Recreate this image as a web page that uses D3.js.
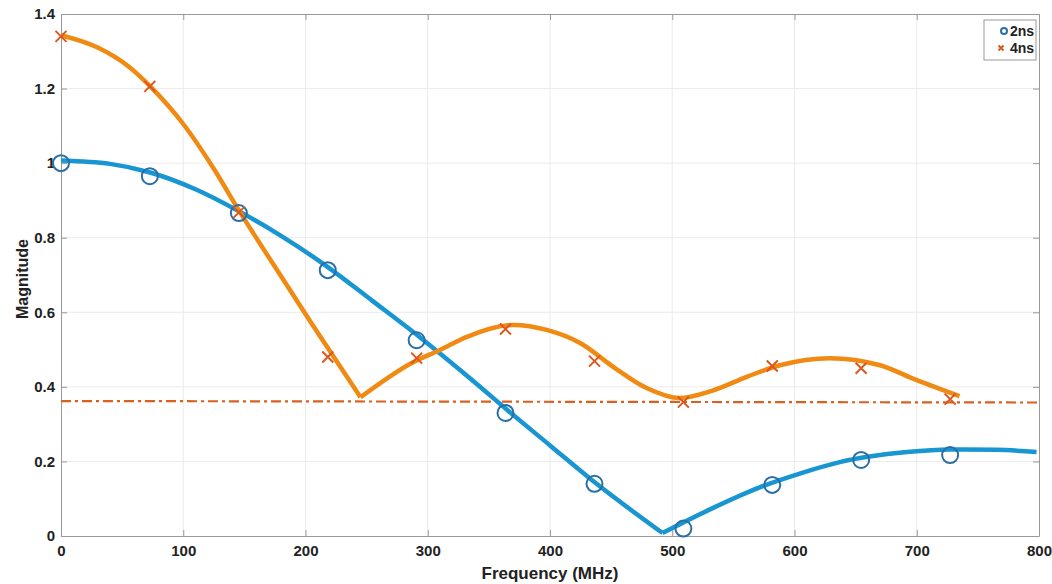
<!DOCTYPE html>
<html>
<head>
<meta charset="utf-8">
<script src="https://cdn.jsdelivr.net/npm/d3@7"></script>
<style>
  body { margin: 0; background: #fff; }
  text { font-family: "Liberation Sans", Arial, sans-serif; font-weight: bold; }
</style>
</head>
<body>
<svg id="chart" width="1052" height="584"></svg>
<script>
// marker samples (frequency in MHz)
const markerFreq = [0, 72.7, 145.5, 218.2, 290.9, 363.6, 436.4, 509.1, 581.8, 654.5, 727.3];
const marks2ns = [1.0, 0.965, 0.866, 0.713, 0.525, 0.33, 0.14, 0.02, 0.137, 0.204, 0.217];
const marks4ns = [1.34, 1.206, 0.868, 0.48, 0.477, 0.555, 0.469, 0.359, 0.456, 0.45, 0.367];

// smooth curves, split at the sharp corners
const curve2nsA = [[0, 1.007], [40, 0.998], [73, 0.975], [110, 0.93], [145, 0.872], [180, 0.805],
  [218, 0.722], [255, 0.63], [294, 0.532], [335, 0.422], [365, 0.338], [400, 0.243], [435, 0.148], [492, 0.008]];
const curve2nsB = [[492, 0.008], [530, 0.07], [572, 0.131], [605, 0.168], [637, 0.198], [692, 0.225],
  [727, 0.232], [765, 0.231], [798, 0.225]];
const curve4nsA = [[0, 1.343], [30, 1.31], [55, 1.26], [73, 1.206], [100, 1.105], [125, 0.985],
  [145, 0.876], [175, 0.722], [205, 0.57], [245, 0.372]];
const curve4nsB = [[245, 0.372], [288, 0.466], [310, 0.499], [332, 0.534], [370, 0.566], [398, 0.552],
  [425, 0.517], [452, 0.453], [479, 0.397], [506, 0.37], [533, 0.39], [561, 0.427], [588, 0.458],
  [629, 0.477], [670, 0.458], [700, 0.418], [735, 0.375]];
const refLine = [[0, 0.362], [800, 0.358]];

const xTicks = [0, 100, 200, 300, 400, 500, 600, 700, 800];
const yTicks = [0, 0.2, 0.4, 0.6, 0.8, 1, 1.2, 1.4];

const svg = d3.select('#chart');
const margin = { top: 14, right: 13, bottom: 48, left: 61 };
const innerWidth = 1052 - margin.left - margin.right;
const innerHeight = 584 - margin.top - margin.bottom;
const g = svg.append('g').attr('transform', `translate(${margin.left},${margin.top})`);

const xScale = d3.scaleLinear().domain([0, 800]).range([0, innerWidth]);
const yScale = d3.scaleLinear().domain([0, 1.4]).range([innerHeight, 0]);

// grid
g.append('g').selectAll('line').data(xTicks.slice(1, -1)).join('line')
  .attr('x1', d => xScale(d)).attr('x2', d => xScale(d))
  .attr('y1', 0).attr('y2', innerHeight)
  .attr('stroke', '#ebebeb').attr('stroke-width', 1);
g.append('g').selectAll('line').data(yTicks.slice(1, -1)).join('line')
  .attr('y1', d => yScale(d)).attr('y2', d => yScale(d))
  .attr('x1', 0).attr('x2', innerWidth)
  .attr('stroke', '#ebebeb').attr('stroke-width', 1);

// axes with inward ticks on all four sides
const fmtY = d => d3.format('~g')(d);
const axisStyle = sel => {
  sel.select('.domain').attr('stroke', '#999');
  sel.selectAll('.tick line').attr('stroke', '#999');
  sel.selectAll('.tick text').attr('fill', '#222').style('font-size', '15px').style('font-weight', 'bold')
    .style('font-family', '"Liberation Sans", Arial, sans-serif');
};
g.append('g').attr('transform', `translate(0,${innerHeight})`)
  .call(d3.axisBottom(xScale).tickValues(xTicks).tickSizeInner(-6).tickSizeOuter(0).tickPadding(9))
  .call(axisStyle);
g.append('g')
  .call(d3.axisLeft(yScale).tickValues(yTicks).tickFormat(fmtY).tickSizeInner(-6).tickSizeOuter(0).tickPadding(6))
  .call(axisStyle);
g.append('g')
  .call(d3.axisTop(xScale).tickValues(xTicks).tickSizeInner(-6).tickSizeOuter(0))
  .call(axisStyle)
  .call(a => a.selectAll('.tick text').remove());
g.append('g').attr('transform', `translate(${innerWidth},0)`)
  .call(d3.axisRight(yScale).tickValues(yTicks).tickSizeInner(-6).tickSizeOuter(0))
  .call(axisStyle)
  .call(a => a.selectAll('.tick text').remove());

// curves
const line = d3.line().x(d => xScale(d[0])).y(d => yScale(d[1])).curve(d3.curveMonotoneX);
const blue = '#1896d1', orange = '#f08a12', darkOrange = '#d9601e';
g.append('path').datum(refLine).attr('d', d3.line().x(d => xScale(d[0])).y(d => yScale(d[1])))
  .attr('fill', 'none').attr('stroke', darkOrange).attr('stroke-width', 2.2)
  .attr('stroke-dasharray', '10,4,3,4');
[curve2nsA, curve2nsB].forEach(c => g.append('path').datum(c).attr('d', line)
  .attr('fill', 'none').attr('stroke', blue).attr('stroke-width', 4.5).attr('stroke-linejoin', 'round'));
[curve4nsA, curve4nsB].forEach(c => g.append('path').datum(c).attr('d', line)
  .attr('fill', 'none').attr('stroke', orange).attr('stroke-width', 4.5).attr('stroke-linejoin', 'round'));

// markers
g.append('g').selectAll('circle').data(markerFreq).join('circle')
  .attr('cx', d => xScale(d)).attr('cy', (d, i) => yScale(marks2ns[i])).attr('r', 8)
  .attr('fill', 'none').attr('stroke', '#2a6ea8').attr('stroke-width', 2);
const xMark = (sel, s) => sel.attr('d', `M${-s},${-s}L${s},${s}M${-s},${s}L${s},${-s}`)
  .attr('fill', 'none').attr('stroke', '#d9581e').attr('stroke-width', 2);
g.append('g').selectAll('path').data(markerFreq).join('path')
  .attr('transform', (d, i) => `translate(${xScale(d)},${yScale(marks4ns[i])})`)
  .call(xMark, 5.5);

// axis titles
svg.append('text').attr('x', margin.left + innerWidth / 2).attr('y', 579).attr('text-anchor', 'middle')
  .style('font-size', '17px').attr('fill', '#222').text('Frequency (MHz)');
svg.append('text').attr('transform', `translate(28,${margin.top + innerHeight / 2 + 4}) rotate(-90)`)
  .attr('text-anchor', 'middle').style('font-size', '16px').attr('fill', '#222').text('Magnitude');

// legend
const lg = svg.append('g').attr('transform', 'translate(984,20)');
lg.append('rect').attr('width', 52).attr('height', 40).attr('fill', '#fff').attr('stroke', '#999');
lg.append('circle').attr('cx', 20).attr('cy', 11).attr('r', 3).attr('fill', 'none')
  .attr('stroke', '#2a6ea8').attr('stroke-width', 2);
lg.append('path').attr('transform', 'translate(17,28)').call(xMark, 2.5);
lg.append('text').attr('x', 26).attr('y', 16).style('font-size', '14px').attr('fill', '#222').text('2ns');
lg.append('text').attr('x', 26).attr('y', 33).style('font-size', '14px').attr('fill', '#222').text('4ns');
</script>
</body>
</html>
